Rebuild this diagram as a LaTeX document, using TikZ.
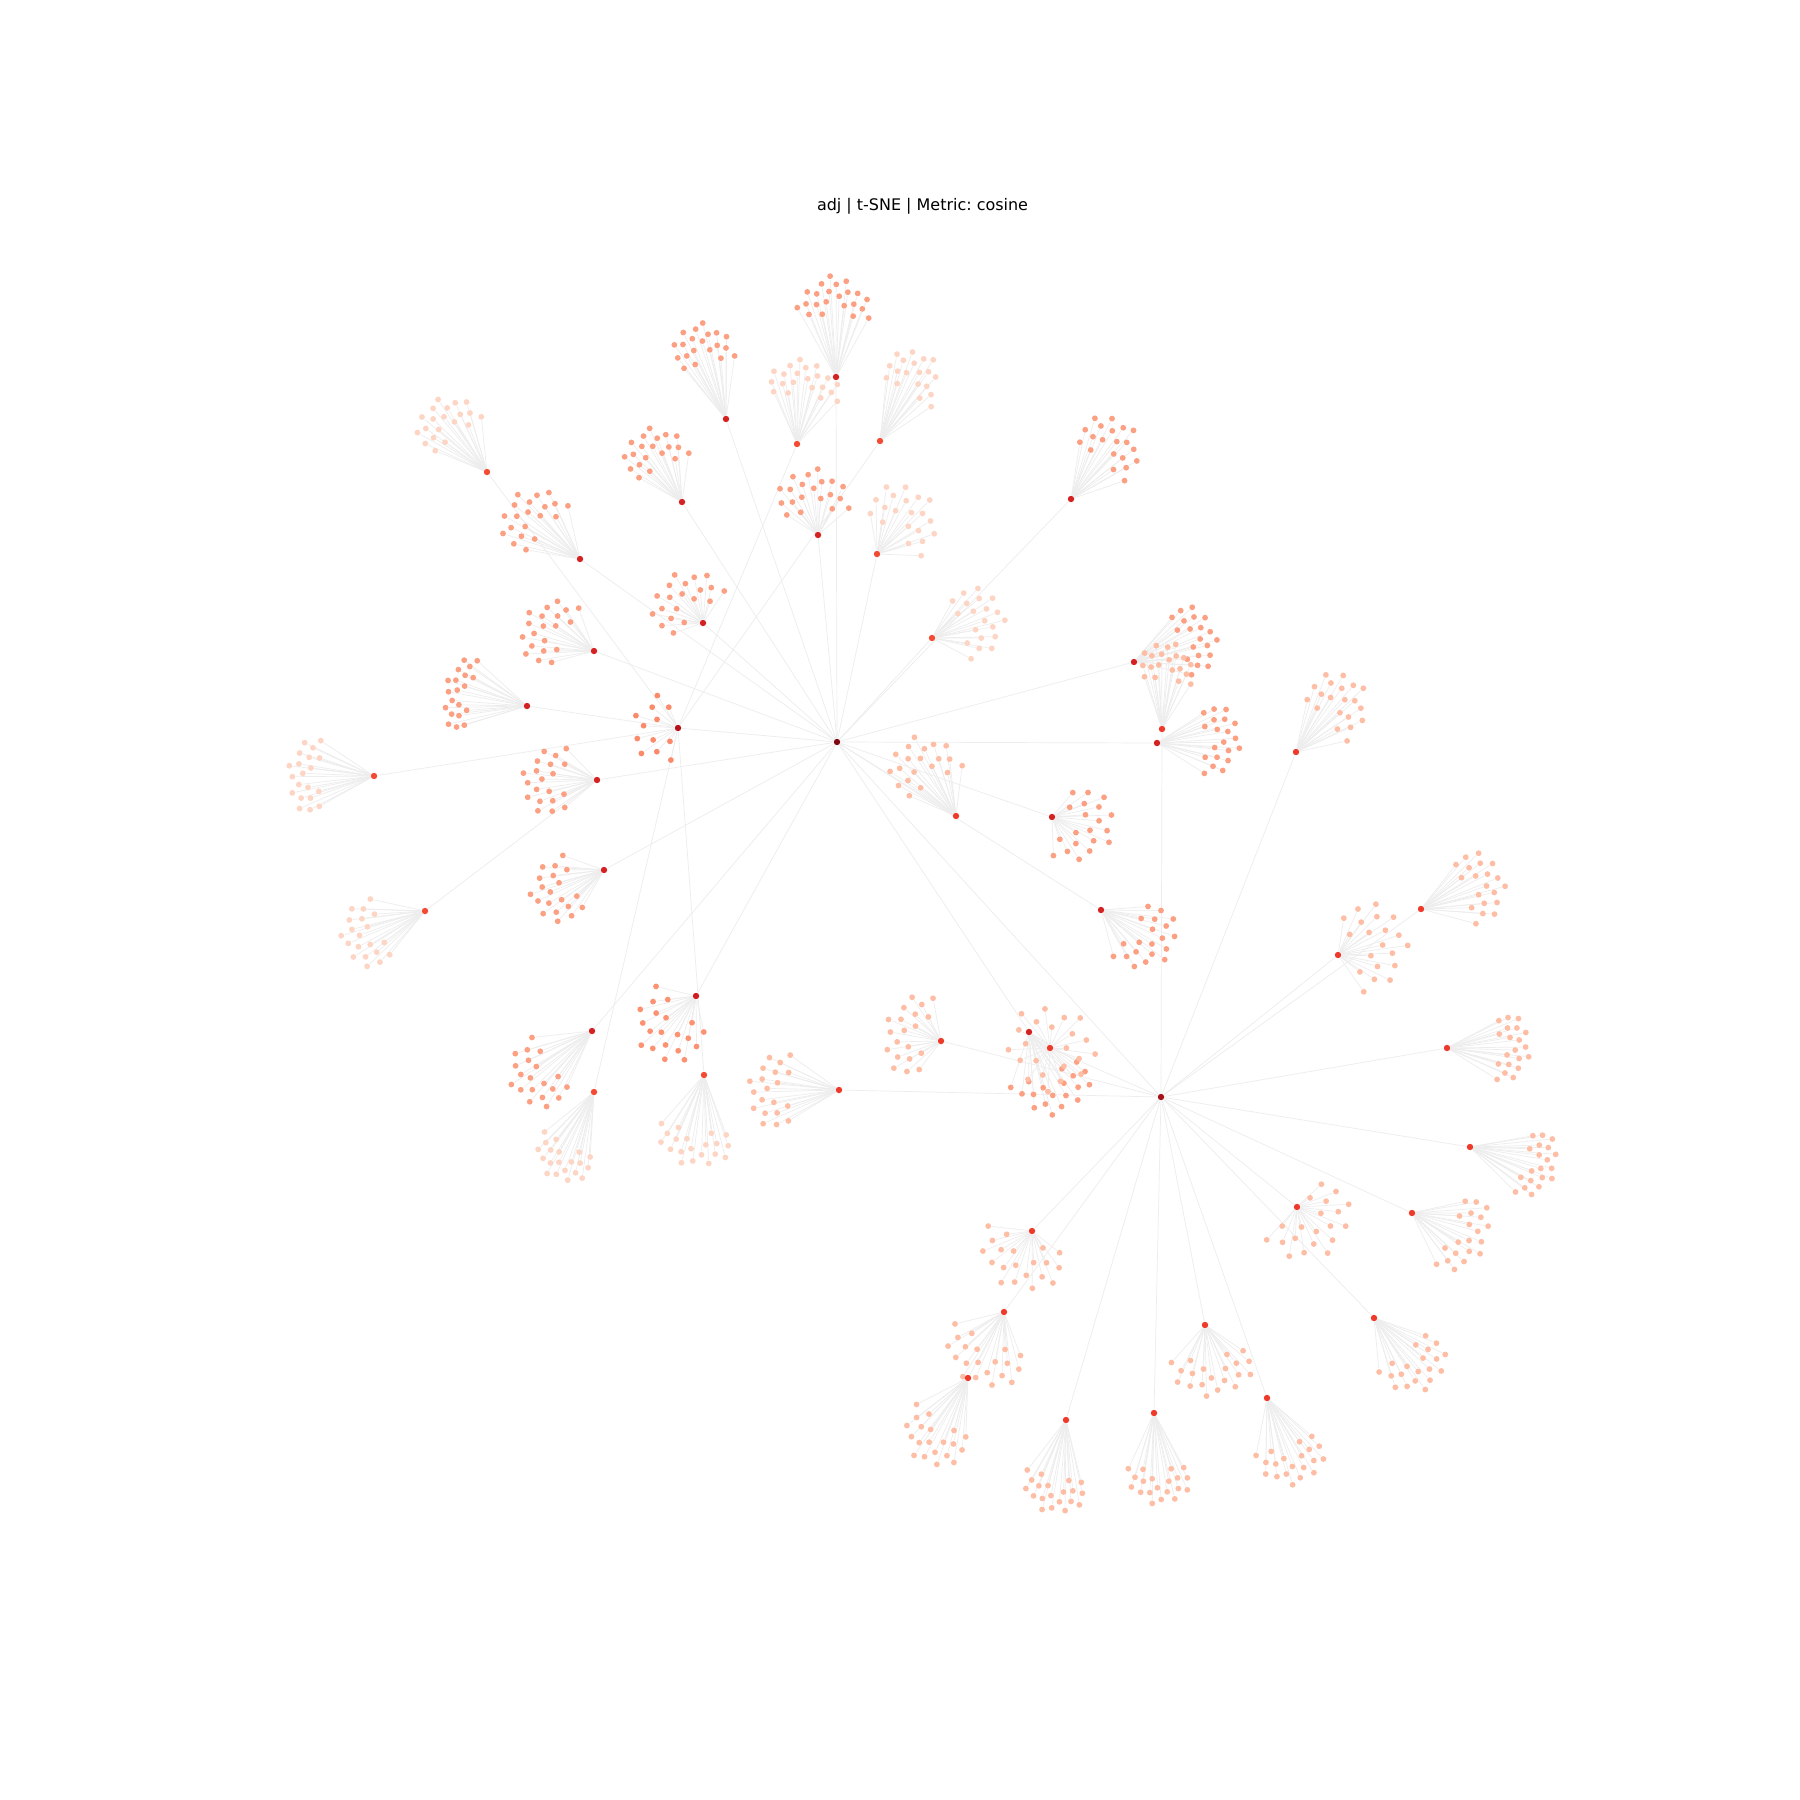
\documentclass[tikz,border=0pt]{standalone}
\usepackage{fontspec}
\setmainfont{DejaVu Sans}
\frenchspacing
\definecolor{lfL}{HTML}{FDD5C4}
\definecolor{lfML}{HTML}{FDBEA5}
\definecolor{lfM}{HTML}{FCA083}
\definecolor{lfD}{HTML}{FC9272}
\definecolor{lfC}{HTML}{FB8A6A}
\definecolor{hbL}{HTML}{F24A33}
\definecolor{hbML}{HTML}{EE3A2B}
\definecolor{hbM}{HTML}{D42121}
\definecolor{hbD}{HTML}{D01C1F}
\definecolor{hbC}{HTML}{B5121B}
\definecolor{hbA}{HTML}{7F0712}
\definecolor{hbB}{HTML}{A51218}
\definecolor{edgec}{HTML}{EDEDED}
\tikzset{
  leafpt/.style={circle, inner sep=0pt, minimum size=0.058cm, draw=none},
  hubpt/.style={circle, inner sep=0pt, minimum size=0.064cm, draw=none},
  edge/.style={draw=edgec, line width=0.2pt},
}
\gdef\clist{}
\newcommand\addclus[3]{%
  \ifx\clist\empty\xdef\clist{#1/#2/#3}\else\xdef\clist{\clist,#1/#2/#3}\fi}
% fan: id, hub x, hub y, leaf centre x, leaf centre y, depth, half-width, count, type
\newcommand\fan[9]{%
  \node[hubpt] (#1) at (#2,#3) {};%
  \pgfmathsetmacro\thA{atan2(#5-#3,#4-#2)}%
  \pgfmathsetmacro\cT{cos(\thA)}%
  \pgfmathsetmacro\sT{sin(\thA)}%
  \pgfmathsetmacro\Px{#4-0.5*#6*\cT}%
  \pgfmathsetmacro\Py{#5-0.5*#6*\sT}%
  \pgfmathtruncatemacro\Nm{#8-1}%
  \addclus{#1}{\Nm}{#9}%
  \foreach \i in {0,...,\Nm}{%
    \pgfmathsetmacro\rr{sqrt(0.09+0.91*(\i+0.5)/#8)}%
    \pgfmathsetmacro\ph{mod(\i*111.246+20,180)-90}%
    \pgfmathsetmacro\uu{1.06*#6*\rr*cos(\ph)}%
    \pgfmathsetmacro\vv{1.08*#7*\rr*sin(\ph)}%
    \pgfmathsetmacro\lx{\Px+\uu*\cT-\vv*\sT}%
    \pgfmathsetmacro\ly{\Py+\uu*\sT+\vv*\cT}%
    \node[leafpt] (#1l\i) at (\lx,\ly) {};%
    \draw[edge] (#1) -- (#1l\i);%
  }%
}
% ring: id, hub x, hub y, rmin, rmax, count, type
\newcommand\ringfan[7]{%
  \node[hubpt] (#1) at (#2,#3) {};%
  \pgfmathtruncatemacro\Nm{#6-1}%
  \addclus{#1}{\Nm}{#7}%
  \foreach \i in {0,...,\Nm}{%
    \pgfmathsetmacro\rr{sqrt(#4*#4+(\i+0.5)/#6*(#5*#5-#4*#4))}%
    \pgfmathsetmacro\ph{\i*137.508}%
    \pgfmathsetmacro\lx{#2+\rr*cos(\ph)}%
    \pgfmathsetmacro\ly{#3+\rr*sin(\ph)}%
    \node[leafpt] (#1l\i) at (\lx,\ly) {};%
    \draw[edge] (#1) -- (#1l\i);%
  }%
}
\begin{document}
\begin{tikzpicture}[x=0.01cm, y=-0.01cm]
\fill[white] (0,0) rectangle (1800,1800);
\useasboundingbox (0,0) rectangle (1800,1800);
\node[anchor=base, font=\fontsize{4.54}{5.4}\selectfont] (title) at (922.5,211) {adj | t-SNE | Metric: cosine};
\node[hubpt] (A) at (837,742) {};
\node[hubpt] (B) at (1161,1097) {};
\fan{h1}{836}{377}{834}{298}{42}{36}{22}{M}
\fan{h2}{797}{444}{802}{380}{37}{38}{21}{L}
\fan{h3}{726}{419}{699}{345}{45}{30}{20}{M}
\fan{h4}{880}{441}{914}{373}{45}{30}{19}{L}
\fan{h5}{682}{502}{650}{451}{45}{32}{20}{M}
\fan{h6}{487}{472}{442}{422}{45}{33}{20}{L}
\fan{h7}{580}{559}{527}{518}{50}{35}{20}{M}
\fan{h8}{703}{623}{680}{600}{50}{38}{20}{M}
\fan{h9}{594}{651}{544}{632}{48}{35}{20}{M}
\fan{h10}{527}{706}{458}{696}{28}{38}{20}{M}
\fan{h11}{374}{776}{305}{779}{35}{38}{20}{L}
\fan{h12}{597}{780}{545}{784}{48}{34}{20}{M}
\fan{h13}{604}{870}{555}{895}{50}{32}{20}{M}
\fan{h14}{425}{911}{364}{939}{45}{34}{20}{L}
\fan{hC}{678}{728}{652}{731}{45}{34}{12}{C}
\fan{h16}{696}{996}{668}{1033}{60}{38}{20}{D}
\fan{h17}{592}{1031}{536}{1080}{50}{35}{20}{M}
\fan{h18}{704}{1075}{697}{1147}{40}{38}{20}{L}
\fan{h19}{594}{1092}{564}{1162}{40}{30}{20}{L}
\fan{h21}{818}{535}{809}{492}{48}{36}{20}{M}
\fan{h22}{877}{554}{905}{512}{55}{38}{20}{L}
\fan{h23}{932}{638}{980}{617}{50}{35}{20}{L}
\fan{h24}{1071}{499}{1111}{441}{50}{34}{20}{M}
\fan{h25}{1134}{662}{1196}{635}{40}{35}{20}{M}
\fan{h26}{1162}{729}{1165}{662}{42}{27}{20}{ML}
\fan{h27}{1157}{743}{1221}{737}{40}{35}{20}{M}
\fan{h28}{1296}{752}{1339}{699}{55}{33}{20}{ML}
\fan{h29}{956}{816}{918}{764}{55}{35}{20}{ML}
\fan{h30}{1052}{817}{1088}{824}{56}{38}{20}{M}
\fan{h31}{1101}{910}{1152}{938}{50}{35}{20}{M}
\fan{h32}{941}{1041}{906}{1037}{45}{42}{20}{ML}
\fan{h33}{839}{1090}{770}{1094}{45}{38}{20}{ML}
\fan{h34a}{1029}{1032}{1057}{1090}{45}{40}{19}{M}
\ringfan{h34b}{1050}{1048}{15}{46}{22}{ML}
\fan{h36}{1338}{955}{1377}{940}{62}{44}{20}{ML}
\fan{h37}{1421}{909}{1482}{882}{45}{36}{20}{ML}
\fan{h38}{1447}{1048}{1513}{1045}{35}{34}{20}{ML}
\fan{h39}{1470}{1147}{1540}{1163}{35}{34}{20}{ML}
\fan{h40}{1297}{1207}{1318}{1224}{60}{45}{20}{ML}
\fan{h41}{1412}{1213}{1469}{1234}{40}{40}{20}{ML}
\fan{h42}{1032}{1231}{1023}{1264}{55}{44}{20}{ML}
\fan{h43}{1004}{1312}{985}{1362}{50}{42}{20}{ML}
\fan{h44}{968}{1378}{935}{1442}{50}{34}{20}{ML}
\fan{h45}{1066}{1420}{1056}{1494}{40}{32}{20}{ML}
\fan{h46}{1154}{1413}{1162}{1485}{40}{32}{20}{ML}
\fan{h47}{1205}{1325}{1217}{1374}{44}{42}{20}{ML}
\fan{h48}{1267}{1398}{1296}{1462}{45}{34}{20}{ML}
\fan{h49}{1374}{1318}{1420}{1366}{48}{34}{20}{ML}
% hub-to-hub connectors
\foreach \t in {h1,h3,h5,h7,h8,h9,h12,h13,h16,h17,h21,h22,h23,h24,h25,h27,h29,h30,h31,h34a,B,hC}
  \draw[edge] (A) -- (\t);
\foreach \t in {h26,h28,h32,h33,h34b,h36,h37,h38,h39,h40,h41,h42,h43,h45,h46,h47,h48,h49}
  \draw[edge] (B) -- (\t);
\foreach \t in {h2,h4,h6,h10,h11,h18,h19}
  \draw[edge] (hC) -- (\t);
\draw[edge] (h12) -- (h14);
\draw[edge] (h43) -- (h44);
% dots: leaves, then hubs on top
\foreach \c/\n/\ty in \clist {
  \foreach \i in {0,...,\n} { \fill[lf\ty] (\c l\i) circle[radius=0.029cm]; }
}
\foreach \c/\n/\ty in \clist { \fill[hb\ty] (\c) circle[radius=0.032cm]; }
\fill[hbA] (A) circle[radius=0.032cm];
\fill[hbB] (B) circle[radius=0.032cm];
\end{tikzpicture}
\end{document}
